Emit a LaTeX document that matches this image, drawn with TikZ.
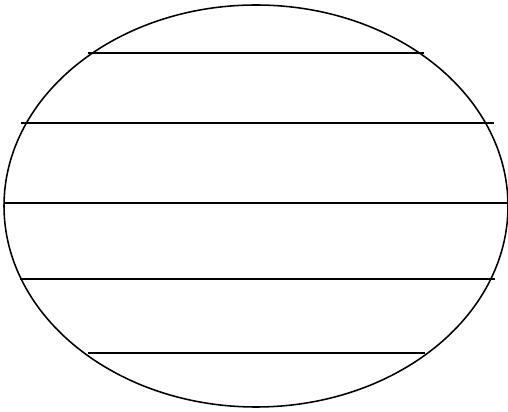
\documentclass[tikz,border=0pt]{standalone}
\usepackage{tikz}

\begin{document}
\begin{tikzpicture}[x=0.025cm, y=-0.025cm, line width=1.1pt]
			% Frame
			\useasboundingbox (0,0) rectangle (508,412);
			
			% Outline
			\draw (256,206) ellipse [x radius=252, y radius=201];
			
			% Horizontal lines
			\draw (88,53) -- (424,53);
			\draw (21,123) -- (494,123);
			\draw (4,203) -- (508,203);
			\draw (20,279) -- (495,279);
			\draw (88,353) -- (425,353);
			
		\end{tikzpicture}
\end{document}
